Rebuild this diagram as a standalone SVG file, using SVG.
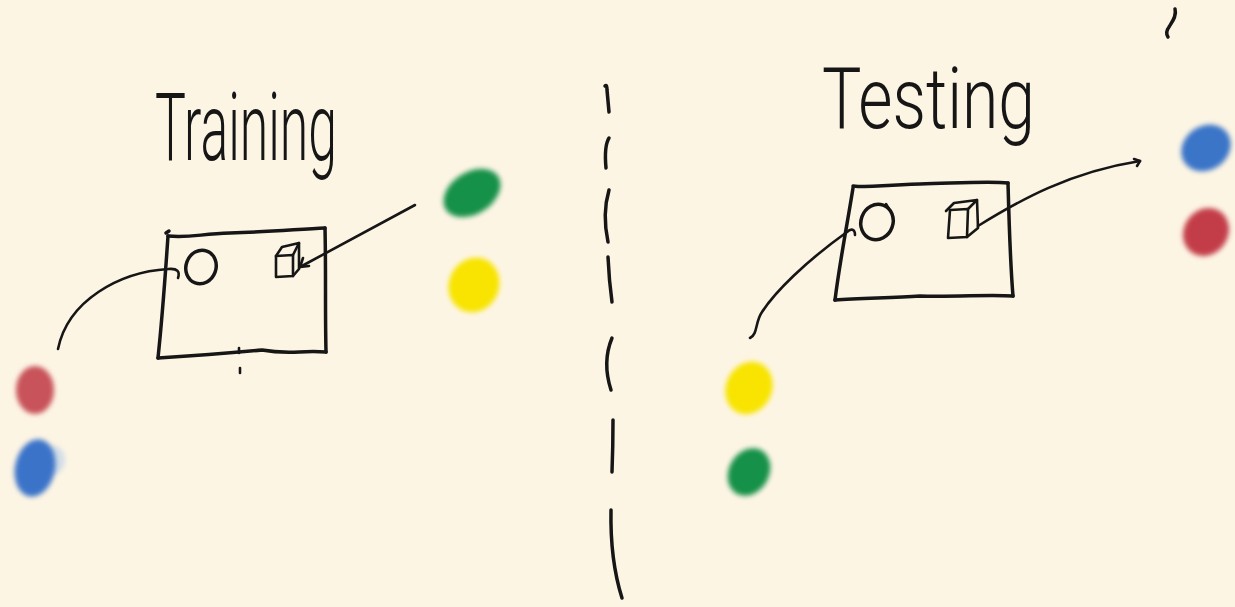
<svg xmlns="http://www.w3.org/2000/svg" width="1235" height="607" viewBox="0 0 1235 607">
  <style>
    .ink { fill: none; stroke: #161616; stroke-width: 3.5; stroke-linecap: round; stroke-linejoin: round; }
    .thin { stroke-width: 2.6; }
    .label { font-family: Roboto, "Liberation Sans", sans-serif; font-weight: 300; fill: #161616; }
    .blob { filter: url(#soft); }
  </style>
  <defs>
    <filter id="soft" x="-50%" y="-50%" width="200%" height="200%">
      <feGaussianBlur stdDeviation="2.6"/>
    </filter>
  </defs>

  <!-- paper -->
  <rect width="1235" height="607" fill="#fdf5e4"/>

  <!-- divider between the two halves -->
  <g id="divider" class="ink">
    <path d="M605,86 Q607,84 607,90 L609,112"/>
    <path d="M609,138 Q604,146 606,168"/>
    <path d="M609,190 Q602,214 608,242"/>
    <path d="M608,257 Q609,280 612,302"/>
    <path d="M612,338 Q602,362 611,390"/>
    <path d="M613,420 Q613,446 612,472"/>
    <path d="M611,510 Q610,560 622,598"/>
  </g>

  <!-- left half -->
  <g id="training-label">
    <text class="label" x="155" y="160" font-size="94" textLength="182" lengthAdjust="spacingAndGlyphs">Training</text>
  </g>

  <g id="training-box" class="ink">
    <path d="M168,236 C190,238 200,234 230,233 C270,232 300,229 325,228"/>
    <path d="M325,228 C326,270 325,310 326,352"/>
    <path d="M326,352 C300,350 290,355 262,350 C230,353 190,356 158,358"/>
    <path d="M158,358 C162,320 165,280 168,236"/>
    <path d="M166,233 l3,-2"/>
    <path class="thin" d="M239,348 l0,5"/>
    <path class="thin" d="M240,368 l0,5"/>
    <!-- circle -->
    <ellipse cx="201" cy="267" rx="15" ry="17" transform="rotate(20 201 267)"/>
    <!-- cube -->
    <path class="thin" d="M276,256 L293,255 L293,276 L276,277 Z"/>
    <path class="thin" d="M276,256 L282,247 L299,243 L293,255"/>
    <path class="thin" d="M299,243 L299,269 L293,276"/>
  </g>

  <g id="training-inputs">
    <ellipse class="blob" cx="35" cy="390" rx="19" ry="24" fill="#c8535a"/>
    <ellipse class="blob" cx="54" cy="460" rx="11" ry="14" fill="#c9d8e8" opacity="0.8"/>
    <ellipse class="blob" cx="35" cy="468" rx="20" ry="29" fill="#3b73c9" transform="rotate(12 35 468)"/>
  </g>

  <g id="training-outputs">
    <ellipse class="blob" cx="472" cy="193" rx="31" ry="21" fill="#17914a" transform="rotate(-32 472 193)"/>
    <ellipse class="blob" cx="474" cy="285" rx="25" ry="28" fill="#f8e400" transform="rotate(25 474 285)"/>
  </g>

  <!-- right half -->
  <g id="testing-label">
    <text class="label" x="822" y="128" font-size="86" textLength="213" lengthAdjust="spacingAndGlyphs">Testing</text>
  </g>

  <g id="testing-box" class="ink">
    <path d="M853,186 C870,188 880,185 920,184 C960,183 990,181 1008,183"/>
    <path d="M1008,183 C1009,220 1010,260 1013,296"/>
    <path d="M1013,296 C990,294 960,297 920,296 C890,298 860,298 835,300"/>
    <path d="M835,300 C840,260 848,220 853,188"/>
    <!-- circle -->
    <ellipse cx="877" cy="222" rx="16" ry="18" transform="rotate(20 877 222)"/>
    <path class="thin" d="M886,204 l3,5"/>
    <!-- cube -->
    <path class="thin" d="M950,210 L968,209 L967,237 L948,238 Z"/>
    <path class="thin" d="M946,211 L954,203 L977,200 L968,209"/>
    <path class="thin" d="M977,200 L978,228 L967,237"/>
  </g>

  <g id="testing-inputs">
    <ellipse class="blob" cx="1206" cy="148" rx="26" ry="22" fill="#3a74c8" transform="rotate(-35 1206 148)"/>
    <ellipse class="blob" cx="1206" cy="232" rx="22" ry="25" fill="#c33e49" transform="rotate(35 1206 232)"/>
  </g>

  <g id="testing-outputs">
    <ellipse class="blob" cx="749" cy="388" rx="23" ry="27" fill="#f8e400" transform="rotate(25 749 388)"/>
    <ellipse class="blob" cx="749" cy="472" rx="20" ry="25" fill="#17914a" transform="rotate(30 749 472)"/>
  </g>

  <!-- stray pen mark -->
  <path class="ink" d="M1175,9 C1177,16 1172,22 1169,27 C1166,31 1166,34 1168,37"/>

  <!-- connectors -->
  <g id="connectors" class="ink thin">
    <path d="M178,278 C180,272 178,268 168,269 C120,272 68,300 58,349"/>
    <path d="M300,267 L415,205"/>
    <path d="M300,267 l3,-9 M300,267 l9,-1"/>
    <path d="M855,235 C855,229 851,228 847,232 C805,262 775,292 762,312 C755,322 758,334 750,338"/>
    <path d="M978,226 C1020,200 1070,172 1140,161"/>
    <path d="M1140,161 l-6,-2 M1140,161 l-3,5"/>
  </g>
</svg>
